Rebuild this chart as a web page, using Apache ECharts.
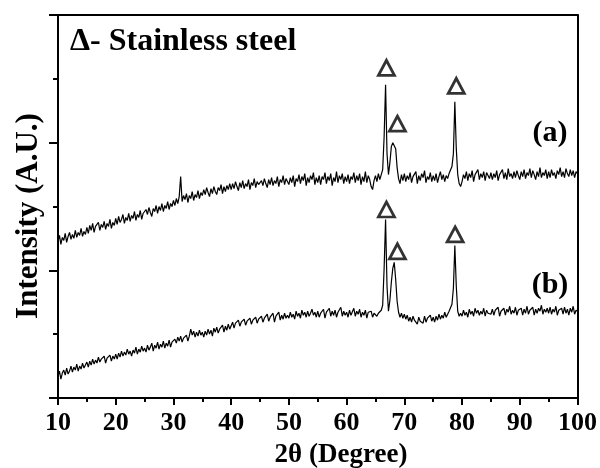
<!DOCTYPE html>
<html>
<head>
<meta charset="utf-8">
<script src="https://cdn.jsdelivr.net/npm/echarts@6/dist/echarts.min.js"></script>
<style>
  html, body { margin: 0; padding: 0; background: #fff; }
  #chart { width: 600px; height: 468px; }
</style>
</head>
<body>
<div id="chart"></div>
<script>
// 2theta grid, 10..100 deg, 0.25 deg steps
const twoTheta = Array.from({ length: 361 }, (_, i) => 10 + i * 0.25);

// intensity (a.u.), one row per 5 degrees
const seriesA = [
  157, 163, 154, 161, 158, 165, 156, 162, 166, 159, 164, 160, 168, 161, 166, 163, 170, 162, 167, 164,
  171, 165, 173, 168, 175, 166, 172, 170, 176, 168, 174, 171, 177, 169, 175, 172, 179, 170, 176, 173,
  180, 174, 182, 176, 179, 184, 175, 181, 178, 185, 177, 183, 180, 187, 178, 184, 181, 188, 179, 185,
  183, 189, 184, 191, 186, 182, 190, 187, 193, 185, 192, 188, 195, 187, 193, 190, 197, 189, 195, 192,
  198, 193, 200, 195, 202, 222, 197, 203, 199, 205, 196, 203, 200, 207, 198, 204, 201, 208, 200, 206,
  203, 209, 204, 211, 206, 202, 210, 205, 212, 207, 204, 211, 208, 214, 205, 212, 207, 213, 209, 215,
  209, 215, 210, 217, 212, 208, 216, 211, 218, 210, 215, 212, 219, 209, 216, 213, 220, 211, 217, 214,
  212, 218, 213, 220, 215, 211, 219, 214, 221, 213, 218, 215, 222, 212, 219, 216, 223, 214, 220, 217,
  214, 221, 216, 223, 212, 220, 217, 224, 215, 222, 218, 225, 213, 221, 216, 223, 219, 226, 214, 221,
  216, 223, 214, 222, 219, 226, 215, 222, 218, 225, 213, 221, 217, 227, 216, 223, 219, 225, 215, 222,
  217, 224, 215, 222, 219, 226, 216, 223, 218, 225, 214, 222, 217, 227, 216, 223, 219, 212, 209, 218,
  223, 217, 225, 219, 224, 229, 262, 314, 245, 224, 236, 252, 256, 258, 250, 231, 220, 215, 224, 218,
  225, 217, 223, 219, 226, 216, 222, 220, 227, 215, 223, 218, 225, 221, 228, 216, 222, 219, 226, 217,
  223, 218, 225, 216, 222, 227, 219, 224, 217, 223, 220, 225, 226, 232, 245, 297, 250, 224, 215, 212,
  217, 224, 220, 227, 218, 225, 221, 228, 217, 224, 222, 229, 219, 225, 221, 227, 218, 226, 223, 220,
  226, 219, 225, 221, 228, 218, 224, 222, 229, 220, 226, 219, 230, 222, 225, 220, 227, 221, 228, 223,
  219, 227, 222, 229, 220, 226, 223, 230, 221, 228, 224, 219, 227, 222, 231, 221, 226, 223, 229, 220,
  227, 221, 229, 223, 226, 220, 228, 224, 231, 222, 227, 221, 230, 225, 222, 229, 223, 228, 221, 227,
  225
];

const seriesB = [
  22, 27, 19, 25, 28, 23, 30, 24, 27, 32, 26, 31, 28, 34, 27, 32, 29, 35, 30, 33,
  36, 31, 37, 33, 39, 34, 38, 35, 41, 36, 39, 37, 42, 35, 40, 38, 43, 37, 42, 39,
  44, 39, 45, 41, 47, 42, 46, 43, 49, 44, 47, 42, 48, 45, 51, 44, 49, 46, 52, 47,
  50, 46, 53, 48, 51, 55, 47, 53, 50, 56, 49, 54, 51, 57, 50, 55, 52, 58, 51, 56,
  54, 59, 55, 61, 57, 62, 56, 60, 58, 63, 57, 62, 69, 63, 67, 61, 66, 62, 68, 63,
  66, 61, 67, 63, 69, 64, 68, 62, 70, 66, 71, 65, 69, 67, 73, 66, 72, 68, 74, 69,
  71, 76, 70, 75, 73, 78, 72, 76, 74, 79, 73, 77, 75, 80, 74, 78, 76, 81, 75, 79,
  77, 82, 76, 80, 78, 84, 77, 81, 79, 85, 76, 82, 80, 86, 78, 83, 79, 85, 80, 83,
  80, 86, 81, 84, 79, 87, 82, 85, 80, 88, 83, 86, 81, 87, 82, 85, 89, 83, 86, 81,
  87, 81, 85, 83, 89, 80, 86, 84, 90, 82, 87, 83, 88, 81, 86, 84, 91, 82, 87, 83,
  86, 81, 88, 83, 85, 90, 82, 87, 84, 89, 81, 86, 83, 88, 80, 86, 84, 87, 81, 85,
  87, 82, 85, 83, 88, 93, 130, 179, 112, 87, 98, 116, 130, 136, 119, 97, 86, 81, 85, 80,
  84, 79, 83, 77, 81, 76, 82, 78, 80, 74, 81, 77, 79, 75, 82, 76, 80, 78, 83, 77,
  81, 76, 82, 78, 84, 79, 83, 80, 86, 81, 84, 87, 88, 94, 110, 153, 112, 87, 82, 85,
  82, 88, 83, 86, 81, 89, 84, 87, 82, 90, 85, 88, 83, 87, 84, 90, 82, 88, 85, 86,
  84, 89, 83, 88, 86, 91, 82, 87, 85, 90, 83, 89, 86, 92, 84, 88, 85, 91, 83, 88,
  86, 90, 83, 89, 85, 92, 84, 88, 86, 91, 83, 89, 85, 90, 87, 93, 84, 89, 86, 90,
  85, 91, 84, 89, 86, 92, 83, 88, 87, 90, 84, 91, 85, 89, 83, 90, 86, 92, 84, 88,
  87
];

// stainless steel peak markers (2theta, intensity)
const marksA = [[66.9, 331], [68.8, 275], [79.0, 313]];
const marksB = [[66.9, 189], [68.8, 147], [78.8, 164]];

const xTicks = [10, 20, 30, 40, 50, 60, 70, 80, 90, 100];

const serif = "'Liberation Serif', 'Times New Roman', serif";

function pairs(ys) {
  return ys.map((y, i) => [twoTheta[i], y]);
}

const chart = echarts.init(document.getElementById('chart'));

const triangle = {
  type: 'scatter',
  symbol: 'triangle',
  symbolSize: [16, 15],
  itemStyle: { color: '#fff', borderColor: '#000', borderWidth: 2.8 },
  z: 5,
  silent: true
};

chart.setOption({
  animation: false,
  grid: { left: 58, right: 20, top: 15, bottom: 70 },
  xAxis: [{
    type: 'value',
    min: 10,
    max: 100,
    interval: 10,
    axisLine: { lineStyle: { color: '#000', width: 2 } },
    axisTick: { inside: false, length: 7, lineStyle: { color: '#000', width: 2 } },
    minorTick: { show: true, splitNumber: 2, length: 4, lineStyle: { color: '#000', width: 2 } },
    splitLine: { show: false },
    axisLabel: {
      margin: 12,
      color: '#000',
      fontFamily: serif,
      fontWeight: 'bold',
      fontSize: 26,
      formatter: v => xTicks.includes(v) ? String(v) : ''
    }
  }, {
    type: 'value',
    position: 'top',
    min: 10,
    max: 100,
    axisLine: { show: true, onZero: false, lineStyle: { color: '#000', width: 2 } },
    axisTick: { show: false },
    axisLabel: { show: false },
    splitLine: { show: false }
  }],
  yAxis: [{
    type: 'value',
    min: 0,
    max: 384,
    interval: 128,
    axisLine: { show: true, lineStyle: { color: '#000', width: 2 } },
    axisTick: { show: true, inside: false, length: 9, lineStyle: { color: '#000', width: 2 } },
    minorTick: { show: true, splitNumber: 2, length: 5, lineStyle: { color: '#000', width: 2 } },
    axisLabel: { show: false },
    splitLine: { show: false }
  }, {
    type: 'value',
    position: 'right',
    min: 0,
    max: 384,
    axisLine: { show: true, onZero: false, lineStyle: { color: '#000', width: 2 } },
    axisTick: { show: false },
    axisLabel: { show: false },
    splitLine: { show: false }
  }],
  series: [
    {
      name: '(a)',
      type: 'line',
      data: pairs(seriesA),
      showSymbol: false,
      lineStyle: { color: '#000', width: 1.2 },
      z: 3
    },
    {
      name: '(b)',
      type: 'line',
      data: pairs(seriesB),
      showSymbol: false,
      lineStyle: { color: '#000', width: 1.2 },
      z: 3
    },
    Object.assign({ data: marksA }, triangle),
    Object.assign({ data: marksB }, triangle)
  ],
  graphic: [
    {
      type: 'text', left: 70, top: 26,
      style: { text: 'Δ- Stainless steel', fill: '#000', font: 'bold 32px ' + serif }
    },
    {
      type: 'text', x: 550, y: 133,
      style: { text: '(a)', fill: '#000', font: 'bold 30px ' + serif, align: 'center', verticalAlign: 'middle' }
    },
    {
      type: 'text', x: 550, y: 285,
      style: { text: '(b)', fill: '#000', font: 'bold 30px ' + serif, align: 'center', verticalAlign: 'middle' }
    },
    {
      type: 'text', x: 341, y: 455,
      style: { text: '2θ (Degree)', fill: '#000', font: 'bold 27px ' + serif, align: 'center', verticalAlign: 'middle' }
    },
    {
      type: 'text', x: 29, y: 216, rotation: Math.PI / 2,
      style: { text: 'Intensity (A.U.)', fill: '#000', font: 'bold 31px ' + serif, align: 'center', verticalAlign: 'middle' }
    }
  ]
});
</script>
</body>
</html>
